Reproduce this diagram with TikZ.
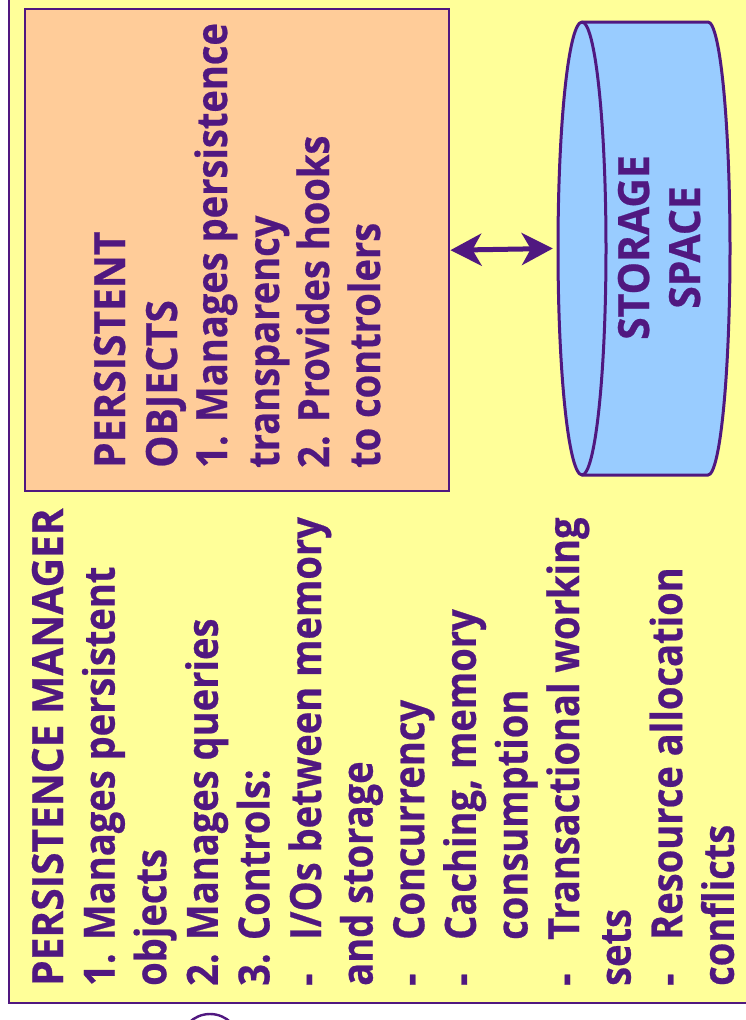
\documentclass[tikz,border=0pt]{standalone}
\usepackage{fontspec}
\setmainfont{Open Sans}[BoldFeatures={FakeBold=0.6}]
\usetikzlibrary{arrows.meta}
\definecolor{ink}{RGB}{80,24,128}
\definecolor{bgyellow}{RGB}{255,255,153}
\definecolor{peach}{RGB}{255,204,153}
\definecolor{sky}{RGB}{153,204,255}
\tikzset{
  txt/.style={rotate=90, xscale=0.885, anchor=base west, inner sep=0pt, text=ink,
    font=\fontsize{43}{52}\selectfont\bfseries},
  captxt/.style={rotate=90, xscale=0.945, anchor=base west, inner sep=0pt, text=ink,
    font=\fontsize{43}{52}\selectfont\bfseries},
  ctxt/.style={rotate=90, xscale=0.95, anchor=base, inner sep=0pt, text=ink,
    font=\fontsize{43}{52}\selectfont\bfseries},
  outline/.style={draw=ink, line width=2.4pt},
  biarrow/.style={draw=ink, line width=5pt,
    {Stealth[length=31pt,width=32pt,inset=9pt]}-{Stealth[length=31pt,width=32pt,inset=9pt]}},
}
\newcommand{\dashitem}{\makebox[52pt][l]{-}}
\begin{document}
\begin{tikzpicture}[x=1pt,y=1pt]
\useasboundingbox (0,0) rectangle (746,-1020);
\clip (0,0) rectangle (746,-1020);
\fill[white] (0,0) rectangle (746,-1020);
% outer frame
\draw[outline, fill=bgyellow] (9,-1003) rectangle (800,30);
% bottom partial circle
\draw[outline] (210,-1044) circle[radius=30];
% persistent objects box
\node[outline, fill=peach, minimum width=424pt, minimum height=482pt, inner sep=0pt, anchor=north west] (box) at (24,-8) {};
% storage cylinder
\path[outline, line width=3pt, fill=sky] (582,-22) -- (708,-22)
  arc[start angle=90, end angle=-90, x radius=22, y radius=226.5]
  -- (582,-475)
  arc[start angle=270, end angle=90, x radius=24, y radius=226.5] -- cycle;
\draw[outline, line width=3pt] (582,-475) arc[start angle=-90, end angle=90, x radius=24, y radius=226.5];
\node[minimum width=172pt, minimum height=453pt, inner sep=0pt] (cyl) at (644,-248.5) {};
\draw[biarrow] (box.east) -- ([xshift=-5pt]cyl.west);
% cylinder text
\node[ctxt] (st1) at (649,-247.5) {STORAGE};
\node[ctxt] (st2) at (700,-247.5) {SPACE};
% box text
\node[captxt] (b1) at (125,-468) {PERSISTENT};
\node[captxt] (b2) at (177,-468) {OBJECTS};
\node[txt] (b3) at (227,-468) {1. Manages persistence};
\node[txt] (b4) at (279,-468) {transparency};
\node[txt] (b5) at (329,-468) {2. Provides hooks};
\node[txt] (b6) at (380,-468) {to controlers};
% persistence manager text
\node[captxt] (m1)  at (63,-986) {PERSISTENCE MANAGER};
\node[txt] (m2)  at (114.6,-986) {1. Manages persistent};
\node[txt] (m3)  at (166.2,-986) {objects};
\node[txt] (m4)  at (217.8,-986) {2. Manages queries};
\node[txt] (m5)  at (269.4,-986) {3. Controls:};
\node[txt] (m6)  at (321,-986)   {\dashitem I/Os between memory};
\node[txt] (m7)  at (372.6,-986) {and storage};
\node[txt] (m8)  at (424.2,-986) {\dashitem Concurrency};
\node[txt] (m9)  at (475.8,-986) {\dashitem Caching, memory};
\node[txt] (m10) at (527.4,-986) {\hspace{52pt}consumption};
\node[txt] (m11) at (579,-986)   {\dashitem Transactional working};
\node[txt] (m12) at (630.6,-986) {sets};
\node[txt] (m13) at (682.2,-986) {\dashitem Resource allocation};
\node[txt] (m14) at (733.8,-986) {conflicts};
\end{tikzpicture}
\end{document}
